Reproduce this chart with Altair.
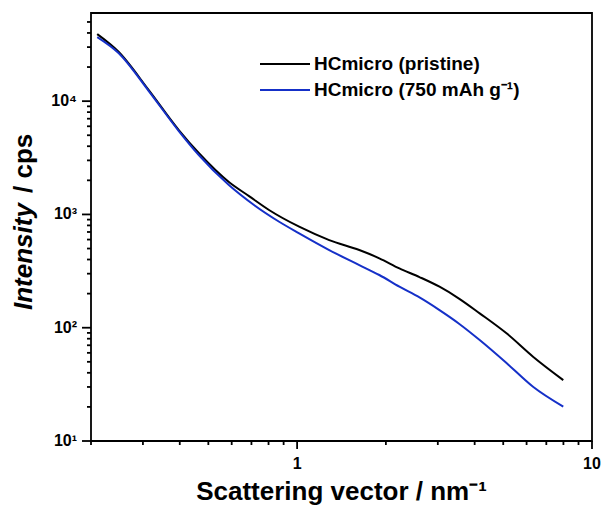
import altair as alt
import pandas as pd

# ---- data (q in nm^-1, intensity in cps) ----
q_pristine = [0.210, 0.248, 0.314, 0.397, 0.464, 0.587, 0.687, 0.803, 1.016, 1.285,
              1.625, 1.90, 2.223, 2.60, 3.04, 3.55, 4.16, 5.13, 6.31, 7.99]
i_pristine = [39100, 27300, 12530, 5560, 3483, 1932, 1450, 1094, 779, 594,
              485, 410, 334, 280, 230, 180, 134, 89.2, 55.5, 34.5]

q_cycled = [0.210, 0.248, 0.314, 0.397, 0.464, 0.587, 0.714, 0.869, 1.016, 1.285,
            1.625, 1.90, 2.223, 2.60, 3.04, 3.55, 4.16, 5.13, 6.31, 7.99]
i_cycled = [36800, 26600, 12280, 5450, 3345, 1817, 1211, 862, 681, 485,
            357, 292, 230, 185, 143, 108, 77.9, 48.8, 30.1, 20.1]

series_names = ["HCmicro (pristine)", "HCmicro (750 mAh g\u207b\u00b9)"]
series_colors = ["#000000", "#1530c8"]

x_major = [1, 10]
x_major_labels = ["1", "10"]
x_minor = [0.2, 0.3, 0.4, 0.5, 0.6, 0.7, 0.8, 0.9, 2, 3, 4, 5, 6, 7, 8, 9]
y_major = [10, 100, 1000, 10000]
y_major_labels = ["10\u00b9", "10\u00b2", "10\u00b3", "10\u2074"]
y_minor = [20, 30, 40, 50, 60, 70, 80, 90,
           200, 300, 400, 500, 600, 700, 800, 900,
           2000, 3000, 4000, 5000, 6000, 7000, 8000, 9000,
           20000, 30000, 40000, 50000]

x_title = "Scattering vector / nm\u207b\u00b9"
y_title_parts = ["Intensity", " / cps"]

FONT = "Liberation Sans"
W, H = 501, 428

rows = []
for q, v in zip(q_pristine, i_pristine):
    rows.append({"q": q, "I": v, "series": series_names[0]})
for q, v in zip(q_cycled, i_cycled):
    rows.append({"q": q, "I": v, "series": series_names[1]})
df = pd.DataFrame(rows)

xscale = alt.Scale(type="log", domain=[0.2, 10], nice=False)
yscale = alt.Scale(type="log", domain=[10, 60000], nice=False)

lines = alt.Chart(df).mark_line(strokeWidth=2, interpolate="monotone").encode(
    x=alt.X("q:Q", scale=xscale, axis=None),
    y=alt.Y("I:Q", scale=yscale, axis=None),
    color=alt.Color("series:N",
                    scale=alt.Scale(domain=series_names, range=series_colors),
                    legend=None),
)

# tick marks drawn as short rules positioned by the shared log scales
def xticks(vals, length, name):
    d = pd.DataFrame({name: vals})
    return alt.Chart(d).mark_rule(color="black", strokeWidth=1.8, clip=False,
                                  opacity=1).encode(
        x=alt.X(f"{name}:Q", scale=xscale, axis=None),
        y=alt.value(H), y2=alt.value(H + length))

def yticks(vals, length, name):
    d = pd.DataFrame({name: vals})
    return alt.Chart(d).mark_rule(color="black", strokeWidth=1.8, clip=False,
                                  opacity=1).encode(
        y=alt.Y(f"{name}:Q", scale=yscale, axis=None),
        x=alt.value(0), x2=alt.value(-length))

tick_layers = [xticks(x_major, 8, "xmaj"), xticks(x_minor, 4, "xmin"),
               yticks(y_major, 9, "ymaj"), yticks(y_minor, 4, "ymin")]

# tick labels
xl = alt.Chart(pd.DataFrame({"xv": x_major, "t": x_major_labels})).mark_text(
    align="center", baseline="top", font=FONT, fontSize=16, fontWeight="bold",
    color="black").encode(
    x=alt.X("xv:Q", scale=xscale, axis=None), y=alt.value(H + 15), text="t:N")
yl = alt.Chart(pd.DataFrame({"yv": y_major, "t": y_major_labels})).mark_text(
    align="right", baseline="middle", font=FONT, fontSize=16, fontWeight="bold",
    color="black").encode(
    y=alt.Y("yv:Q", scale=yscale, axis=None), x=alt.value(-14), text="t:N")

# x title
xt = alt.Chart(pd.DataFrame({"t": [x_title]})).mark_text(
    align="center", baseline="alphabetic", font=FONT, fontSize=26,
    fontWeight="bold", color="black").encode(
    x=alt.value(W / 2), y=alt.value(H + 59), text="t:N")

# manual legend (line samples + labels)
legend_layers = []
for k, (name, col) in enumerate(zip(series_names, series_colors)):
    ldf = pd.DataFrame({"label": [name]})
    yy = 51 + 26 * k
    legend_layers.append(
        alt.Chart(ldf).mark_rule(strokeWidth=2, color=col).encode(
            x=alt.value(169), x2=alt.value(219), y=alt.value(yy)))
    legend_layers.append(
        alt.Chart(ldf).mark_text(align="left", baseline="middle", font=FONT,
                                 fontSize=19, fontWeight="bold", color="black").encode(
            text="label:N", x=alt.value(223), y=alt.value(yy)))

tdf1 = pd.DataFrame({"t": [y_title_parts[0]]})
tdf2 = pd.DataFrame({"t": [y_title_parts[1]]})
ytitle1 = alt.Chart(tdf1).mark_text(
    angle=270, align="left", baseline="alphabetic", font=FONT, fontSize=26,
    fontWeight="bold", fontStyle="italic", color="black"
).encode(text="t:N", x=alt.value(-59), y=alt.value(297))
ytitle2 = alt.Chart(tdf2).mark_text(
    angle=270, align="left", baseline="alphabetic", font=FONT, fontSize=26,
    fontWeight="bold", color="black"
).encode(text="t:N", x=alt.value(-59), y=alt.value(180))

chart = alt.layer(lines, *tick_layers, ytitle1, ytitle2, *legend_layers,
                  xl, yl, xt).properties(
    width=W, height=H,
    background="white",
    autosize=alt.AutoSizeParams(type="none"),
    padding={"left": 91, "top": 13, "right": 14, "bottom": 71},
).configure_view(
    stroke="black", strokeWidth=1.8
)

chart.save("out.html", embed_options={"renderer": "svg", "actions": False})
